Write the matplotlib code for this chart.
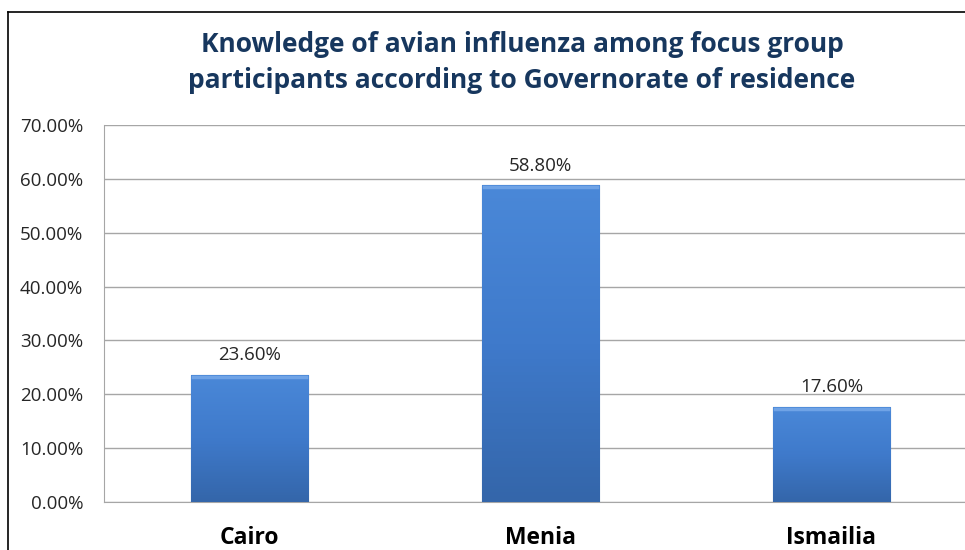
import numpy as np
import matplotlib.pyplot as plt
from matplotlib.colors import LinearSegmentedColormap
from matplotlib.lines import Line2D

regions = ['Cairo', 'Menia', 'Ismailia']
knowledge = [23.6, 58.8, 17.6]
yticks = [0, 10, 20, 30, 40, 50, 60, 70]

plt.rcParams['font.family'] = ['Open Sans', 'DejaVu Sans']

fig = plt.figure(figsize=(9.65, 5.5), dpi=100)
ax = fig.add_axes([104/965, 1 - 502/550, 873/965, 377/550])

x = np.arange(len(regions))
bars = ax.bar(x, knowledge, width=0.405, color='#3C78C3', edgecolor='#2C5C98', linewidth=0.8, zorder=3)

# gradient fill inside each bar
cmap = LinearSegmentedColormap.from_list('b', ['#3466AA', '#3F7ACB', '#4A88D8'])
grad = np.linspace(0, 1, 100).reshape(-1, 1)
for b in bars:
    x0, w, h = b.get_x(), b.get_width(), b.get_height()
    im = ax.imshow(grad, cmap=cmap, origin='lower', aspect='auto',
                   extent=[x0, x0 + w, 0, h], zorder=3)
    im.set_clip_path(b)
    ax.plot([x0 + 0.01, x0 + w - 0.01], [h - 0.35, h - 0.35], color='#6FA3E6', lw=2.5, zorder=4)

for xi, v in zip(x, knowledge):
    ax.text(xi, v + 2.0, f'{v:.2f}%', ha='center', va='bottom', fontsize=13.5, color='#262626')

ax.set_xlim(-0.5, 2.5)
ax.set_ylim(0, 70)
ax.set_yticks(yticks)
ax.set_yticklabels([f'{t:.2f}%' for t in yticks], fontsize=13.5, color='#262626')
ax.set_xticks(x)
ax.set_xticklabels(regions, fontsize=16.5, fontweight='bold', color='black')
ax.tick_params(axis='y', length=0, pad=15)
ax.tick_params(axis='x', length=0, pad=17)
ax.yaxis.grid(True, color='#A6A6A6', lw=1, zorder=0)
ax.set_axisbelow(True)
for s in ['top', 'right']:
    ax.spines[s].set_visible(False)
ax.spines['left'].set_color('#A6A6A6')
ax.spines['bottom'].set_color('#A6A6A6')

fig.text(522/965, 1 - 45/550, 'Knowledge of avian influenza among focus group',
         ha='center', va='center', fontsize=19, fontweight='bold', color='#17375E')
fig.text(522/965, 1 - 80/550, 'participants according to Governorate of residence',
         ha='center', va='center', fontsize=19, fontweight='bold', color='#17375E')

# chart frame
fig.add_artist(Line2D([8/965, 1], [1 - 12/550, 1 - 12/550], color='black', lw=1.2))
fig.add_artist(Line2D([8/965, 8/965], [0, 1 - 12/550], color='black', lw=1.2))

fig.savefig('out.png', dpi=100)
